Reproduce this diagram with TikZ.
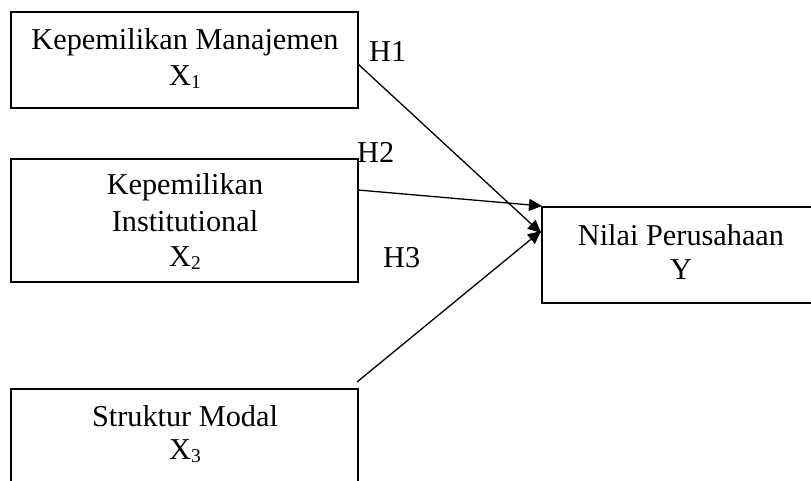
\documentclass[tikz,border=0pt]{standalone}
\usepackage{fontspec}
\setmainfont{Liberation Serif}
\usetikzlibrary{arrows.meta}
\newcommand{\sbx}[1]{\raisebox{-3pt}{\fontsize{19.5}{19.5}\selectfont #1}}
\begin{document}
\begin{tikzpicture}[x=1pt,y=-1pt,
  boxline/.style={draw=black,line width=1.8pt},
  txt/.style={anchor=base,inner sep=0pt,font=\fontsize{30.3}{34}\selectfont},
  lbl/.style={anchor=base west,inner sep=0pt,font=\fontsize{30.3}{34}\selectfont},
  conn/.style={draw=black,line width=1.3pt,-{Triangle[length=13pt,width=12pt]}}]
\clip (0,0) rectangle (811,481);
\fill[white] (0,0) rectangle (811,481);
% boxes
\node[boxline,rectangle,minimum width=347pt,minimum height=96pt,inner sep=0pt] (b1) at (184.5,60) {};
\node[boxline,rectangle,minimum width=347pt,minimum height=123pt,inner sep=0pt] (b2) at (184.5,220.5) {};
\node[boxline,rectangle,minimum width=347pt,minimum height=130pt,inner sep=0pt] (b3) at (184.5,454) {};
\node[boxline,rectangle,minimum width=278pt,minimum height=96pt,inner sep=0pt] (by) at (681,255) {};
% texts
\node[txt] (t1a) at (185,50) {Kepemilikan Manajemen};
\node[txt] (t1b) at (185,86) {X\sbx{1}};
\node[txt] (t2a) at (185,195) {Kepemilikan};
\node[txt] (t2b) at (185,231) {Institutional};
\node[txt] (t2c) at (185,266) {X\sbx{2}};
\node[txt] (t3a) at (185,426) {Struktur Modal};
\node[txt] (t3b) at (185,459) {X\sbx{3}};
\node[txt] (tya) at (681,245) {Nilai Perusahaan};
\node[txt] (tyb) at (681,279) {Y};
% labels
\node[lbl] (h1) at (369,62) {H1};
\node[lbl] (h2) at (357,163) {H2};
\node[lbl] (h3) at (383,267) {H3};
% connector end points
\coordinate (s1) at (358,64);
\coordinate (s2) at (358,190);
\coordinate (s3) at (357,382);
\coordinate (e1) at (541,233);
\coordinate (e2) at (542,206);
\coordinate (e3) at (541,231);
\draw[conn] (s1) -- (e1);
\draw[conn] (s2) -- (e2);
\draw[conn] (s3) -- (e3);
\end{tikzpicture}
\end{document}
